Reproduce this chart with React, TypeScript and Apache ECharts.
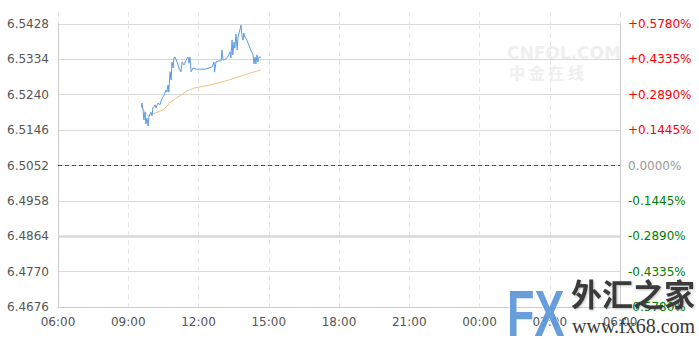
import React, { useEffect, useRef } from "react";
import * as echarts from "echarts";

// Intraday quote, times are local clock (session runs 06:00 -> 06:00 next day)
const priceTimes = [
  "09:34", "09:35", "09:38", "09:40", "09:43", "09:45", "09:48", "09:51", "09:53", "09:58",
  "10:01", "10:03", "10:09", "10:11", "10:16", "10:21", "10:26", "10:32", "10:37", "10:39",
  "10:42", "10:44", "10:47", "10:50", "10:52", "10:55", "10:57", "11:00", "11:05", "11:10",
  "11:15", "11:18", "11:23", "11:28", "11:33", "11:36", "11:38", "11:41", "11:46", "11:54",
  "12:04", "12:17", "12:27", "12:35", "12:40", "12:41", "12:45", "12:52", "12:58", "13:00",
  "13:03", "13:10", "13:16", "13:21", "13:23", "13:26", "13:28", "13:31", "13:33", "13:36",
  "13:39", "13:41", "13:44", "13:46", "13:49", "13:51", "13:54", "13:56", "13:59", "14:04",
  "14:09", "14:14", "14:20", "14:22", "14:25", "14:27", "14:30", "14:32", "14:35", "14:40",
];
const prices = [
  6.5207, 6.5218, 6.52, 6.5173, 6.5194, 6.5162, 6.5178, 6.5157, 6.5181, 6.5194,
  6.5184, 6.5205, 6.5213, 6.5205, 6.5218, 6.5213, 6.5229, 6.5239, 6.5253, 6.5247,
  6.5266, 6.5247, 6.5301, 6.5279, 6.5327, 6.5311, 6.5338, 6.534, 6.5327, 6.5311,
  6.5301, 6.5327, 6.5319, 6.5332, 6.534, 6.5324, 6.534, 6.5301, 6.5311, 6.5308,
  6.5308, 6.5308, 6.5311, 6.5314, 6.5327, 6.53, 6.5327, 6.533, 6.533, 6.5359,
  6.5332, 6.5335, 6.5343, 6.5354, 6.5338, 6.5385, 6.5346, 6.538, 6.5364, 6.5401,
  6.5359, 6.5391, 6.5404, 6.5412, 6.5425, 6.5399, 6.5385, 6.5404, 6.5393, 6.5385,
  6.5372, 6.5359, 6.5346, 6.5322, 6.534, 6.5322, 6.5346, 6.5327, 6.534, 6.534,
];

// Running average price
const avgTimes = [
  "09:34", "09:51", "10:10", "10:30", "10:50", "11:10", "11:30", "11:50",
  "12:20", "12:50", "13:20", "13:50", "14:20", "14:40",
];
const avgPrices = [
  6.5207, 6.5184, 6.5192, 6.52, 6.5222, 6.5236, 6.525, 6.5258,
  6.5264, 6.5271, 6.528, 6.529, 6.53, 6.5306,
];

// Previous close and axis range
const prevClose = 6.5052;
const yMin = 6.4676;
const yMax = 6.5428;
const yStep = 0.0094;
const sessionStartHour = 6;
const sessionMinutes = 1440;

const toMinutes = (t: string) => {
  const [h, m] = t.split(":").map(Number);
  let v = h * 60 + m - sessionStartHour * 60;
  if (v < 0) v += sessionMinutes;
  return v;
};

const fmtClock = (v: number) => {
  const total = (Math.round(v) + sessionStartHour * 60) % 1440;
  const h = Math.floor(total / 60);
  const m = total % 60;
  return `${String(h).padStart(2, "0")}:${String(m).padStart(2, "0")}`;
};

const pctOf = (v: number) => ((v - prevClose) / prevClose) * 100;

export default function App() {
  const ref = useRef<HTMLDivElement>(null);

  useEffect(() => {
    if (!ref.current) return;
    const chart = echarts.init(ref.current, null, { renderer: "svg" });
    const font = "DejaVu Sans";

    const priceData = priceTimes.map((t, i) => [toMinutes(t), prices[i]]);
    const avgData = avgTimes.map((t, i) => [toMinutes(t), avgPrices[i]]);
    const heavyGrid = yMin + 2 * yStep;

    // horizontal rule across the whole session at a given price
    const ruleItem = (stroke: string, width: number, dash: number[] | null) =>
      (_params: any, api: any) => {
        const v = api.value(0);
        const a = api.coord([0, v]);
        const b = api.coord([sessionMinutes, v]);
        const y = Math.round(a[1] - 0.5) + 0.5;
        return {
          type: "line",
          silent: true,
          shape: { x1: a[0], y1: y, x2: b[0], y2: y },
          style: {
            stroke,
            lineWidth: width,
            lineDash: dash || undefined,
            fill: null,
          },
        };
      };

    chart.setOption({
      animation: false,
      backgroundColor: "#ffffff",
      grid: [
        { left: 58, right: 79, top: 24, bottom: 32, containLabel: false },
        { left: 58, right: 79, top: 12, height: 12, containLabel: false },
      ],
      xAxis: [
        {
          type: "value",
          gridIndex: 0,
          min: 0,
          max: sessionMinutes,
          interval: 180,
          axisLine: { show: true, lineStyle: { color: "#cccccc" } },
          axisTick: { show: false },
          axisLabel: {
            color: "#555555",
            fontFamily: font,
            fontSize: 12,
            margin: 9,
            formatter: (v: number) => fmtClock(v),
          },
          splitLine: {
            show: true,
            lineStyle: { color: "#e6e6e6", type: [5, 4] },
          },
        },
        {
          type: "value",
          gridIndex: 1,
          min: 0,
          max: sessionMinutes,
          interval: 180,
          axisLine: { show: false },
          axisTick: { show: false },
          axisLabel: { show: false },
          splitLine: {
            show: true,
            lineStyle: { color: "#e6e6e6", type: [5, 4] },
          },
        },
      ],
      yAxis: [
        {
          type: "value",
          gridIndex: 0,
          min: yMin,
          max: yMax,
          interval: yStep,
          axisLine: { show: true, lineStyle: { color: "#cccccc" } },
          axisTick: { show: false },
          axisLabel: {
            color: "#555555",
            fontFamily: font,
            fontSize: 12,
            margin: 9,
            formatter: (v: number) => v.toFixed(4),
          },
          splitLine: { show: true, lineStyle: { color: "#d9d9d9" } },
        },
        {
          type: "value",
          gridIndex: 0,
          position: "right",
          min: yMin,
          max: yMax,
          interval: yStep,
          axisLine: { show: true, lineStyle: { color: "#cccccc" } },
          axisTick: { show: false },
          axisLabel: {
            fontFamily: font,
            fontSize: 12,
            margin: 8,
            formatter: (v: number) => {
              const p = pctOf(v);
              if (Math.abs(p) < 1e-6) return "0.0000%";
              return (p > 0 ? "+" : "") + p.toFixed(4) + "%";
            },
            color: (v: any) => {
              const p = pctOf(Number(v));
              if (Math.abs(p) < 1e-6) return "#999999";
              return p > 0 ? "#ff0000" : "#008000";
            },
          },
          splitLine: { show: false },
        },
        {
          type: "value",
          gridIndex: 1,
          min: 0,
          max: 1,
          show: false,
        },
      ],
      series: [
        {
          name: "heavy",
          type: "custom",
          xAxisIndex: 0,
          yAxisIndex: 0,
          data: [[heavyGrid]],
          silent: true,
          renderItem: ruleItem("#d9d9d9", 2.5, null),
          z: 1,
        },
        {
          // previous close reference line
          name: "close",
          type: "custom",
          xAxisIndex: 0,
          yAxisIndex: 0,
          data: [[prevClose]],
          silent: true,
          renderItem: ruleItem("#ff0000", 1, [4, 3]),
          z: 2,
        },
        {
          name: "price",
          type: "line",
          xAxisIndex: 0,
          yAxisIndex: 0,
          data: priceData,
          showSymbol: false,
          color: "#5b9be3",
          lineStyle: { color: "#5b9be3", width: 1 },
          itemStyle: { color: "#5b9be3" },
          z: 5,
        },
        {
          name: "average",
          type: "line",
          xAxisIndex: 0,
          yAxisIndex: 0,
          data: avgData,
          showSymbol: false,
          color: "#f0c27e",
          lineStyle: { color: "#f0c27e", width: 1 },
          itemStyle: { color: "#f0c27e" },
          z: 4,
        },
      ],
      graphic: [
        {
          type: "text",
          left: 507,
          top: 44,
          z: 1,
          style: {
            text: "CNFOL.COM",
            fontFamily: "DejaVu Sans",
            fontWeight: "bold",
            fontSize: 17,
            fill: "#efefef",
          },
        },
        {
          type: "text",
          left: 509,
          top: 64,
          z: 1,
          style: {
            text: "中 金 在 线",
            fontFamily: "Noto Sans CJK SC",
            fontWeight: "bold",
            fontSize: 16,
            fill: "#efefef",
          },
        },
        {
          type: "text",
          x: 507,
          y: 281,
          scaleY: 1.45,
          z: 100,
          style: {
            text: "FX",
            fontFamily: "Liberation Sans",
            fontWeight: "bold",
            fontSize: 45,
            fill: "#5a96d8",
            stroke: "#ffffff",
            lineWidth: 1,
            opacity: 0.92,
          },
        },
        {
          type: "text",
          x: 571,
          y: 277,
          z: 100,
          style: {
            text: "外汇之家",
            fontFamily: "Noto Sans CJK SC",
            fontWeight: "bold",
            fontSize: 31,
            fill: "#3a3a3a",
            textShadowColor: "rgba(0,0,0,0.25)",
            textShadowBlur: 2,
            textShadowOffsetX: 1,
            textShadowOffsetY: 1,
          },
        },
        {
          type: "text",
          x: 572,
          y: 316,
          z: 100,
          style: {
            text: "www.fx68.com",
            fontFamily: "Liberation Serif",
            fontSize: 20,
            fill: "#3a3a3a",
          },
        },
      ],
    });

    return () => chart.dispose();
  }, []);

  return (
    <div
      ref={ref}
      style={{ position: "absolute", left: 0, top: 0, width: 699, height: 339 }}
    />
  );
}
